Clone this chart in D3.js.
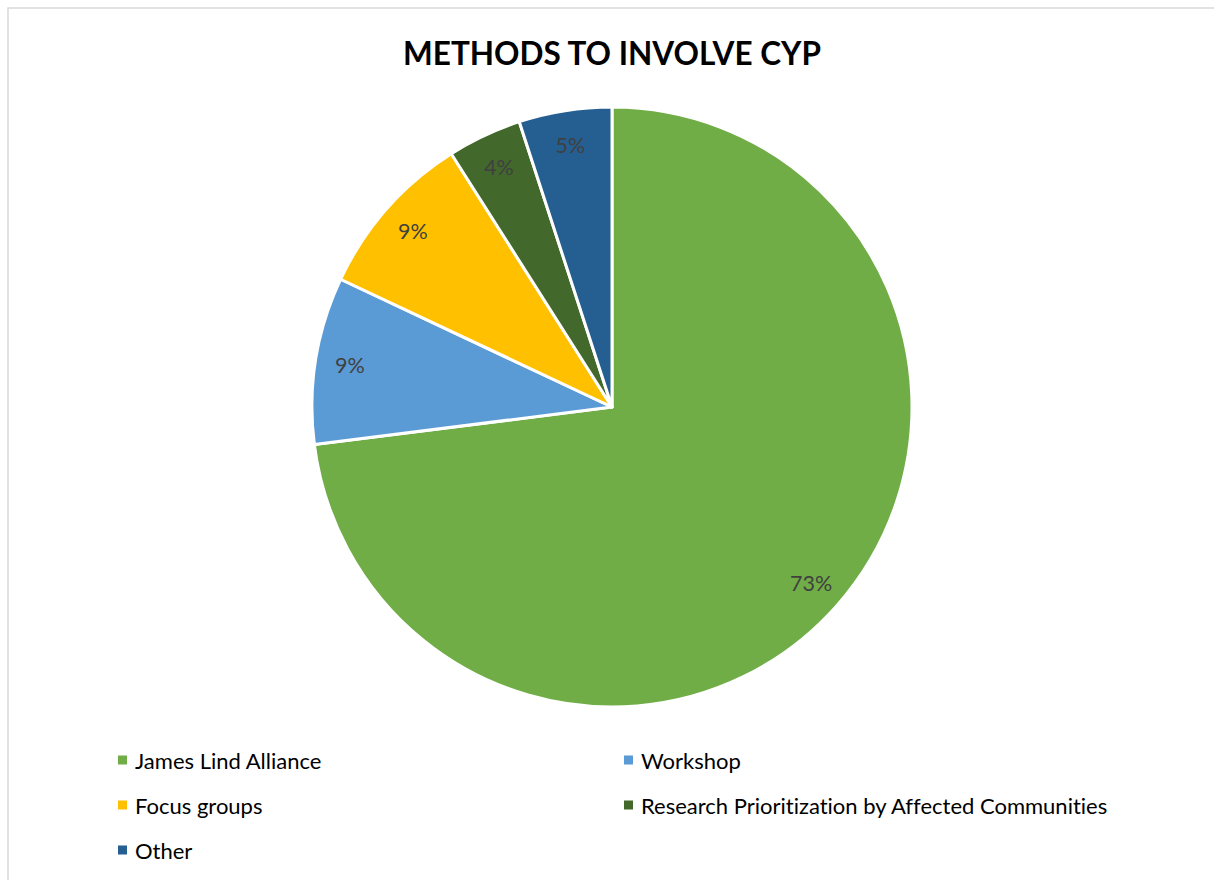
<!DOCTYPE html>
<html>
<head>
<meta charset="utf-8">
<script src="https://cdn.jsdelivr.net/npm/d3@7"></script>
<style>
  html, body { margin: 0; padding: 0; background: #fff; }
  svg { display: block; }
  text { font-variant-ligatures: none; font-feature-settings: "liga" 0; }
</style>
</head>
<body>
<svg id="chart" width="1214" height="880"></svg>
<script>
// Methods used to involve children and young people (share of studies, %)
const categories = ["James Lind Alliance", "Workshop", "Focus groups", "Research Prioritization by Affected Communities", "Other"];
const values = [73, 9, 9, 4, 5];
const colors = ["#70AD47", "#5B9BD5", "#FFC000", "#43682B", "#255E91"];
const title = "METHODS TO INVOLVE CYP";

const font = "Lato, 'Open Sans', sans-serif";
const svg = d3.select("#chart");

// chart frame
svg.append("rect")
  .attr("x", 8).attr("y", 8)
  .attr("width", 1220).attr("height", 890)
  .attr("fill", "#fff")
  .attr("stroke", "#d9d9d9")
  .attr("stroke-width", 1.5);

svg.append("text")
  .attr("x", 612).attr("y", 65)
  .attr("text-anchor", "middle")
  .attr("font-family", font)
  .attr("font-weight", "bold")
  .attr("font-size", 31.5)
  .attr("fill", "#000")
  .text(title);

const cx = 612, cy = 407, R = 300;
const data = categories.map((c, i) => ({ name: c, value: values[i], color: colors[i] }));

const pie = d3.pie().value(d => d.value).sort(null);
const arc = d3.arc().innerRadius(0).outerRadius(R);
const labelArc = d3.arc().innerRadius(R * 0.885).outerRadius(R * 0.885);

const g = svg.append("g").attr("transform", `translate(${cx},${cy})`);
const arcs = pie(data);

g.selectAll("path.slice")
  .data(arcs)
  .join("path")
  .attr("class", "slice")
  .attr("d", arc)
  .attr("fill", d => d.data.color)
  .attr("stroke", "#fff")
  .attr("stroke-width", 3)
  .attr("stroke-linejoin", "round");

g.selectAll("text.lbl")
  .data(arcs)
  .join("text")
  .attr("class", "lbl")
  .attr("transform", d => `translate(${labelArc.centroid(d)})`)
  .attr("text-anchor", "middle")
  .attr("dominant-baseline", "central")
  .attr("font-family", font)
  .attr("font-size", 21.5)
  .attr("fill", "#404040")
  .text(d => d.data.value + "%");

// legend, two columns
const legendX = [118, 624];
const legendY = [760, 805, 850];
const lg = svg.append("g");
const items = lg.selectAll("g.item")
  .data(data)
  .join("g")
  .attr("class", "item")
  .attr("transform", (d, i) => `translate(${legendX[i % 2]},${legendY[Math.floor(i / 2)]})`);

items.append("rect")
  .attr("x", 0).attr("y", -4.5)
  .attr("width", 9).attr("height", 9)
  .attr("fill", d => d.color);

items.append("text")
  .attr("x", 17).attr("y", 0)
  .attr("dominant-baseline", "central")
  .attr("font-family", font)
  .attr("font-size", 22)
  .attr("fill", "#000")
  .text(d => d.name);
</script>
</body>
</html>
